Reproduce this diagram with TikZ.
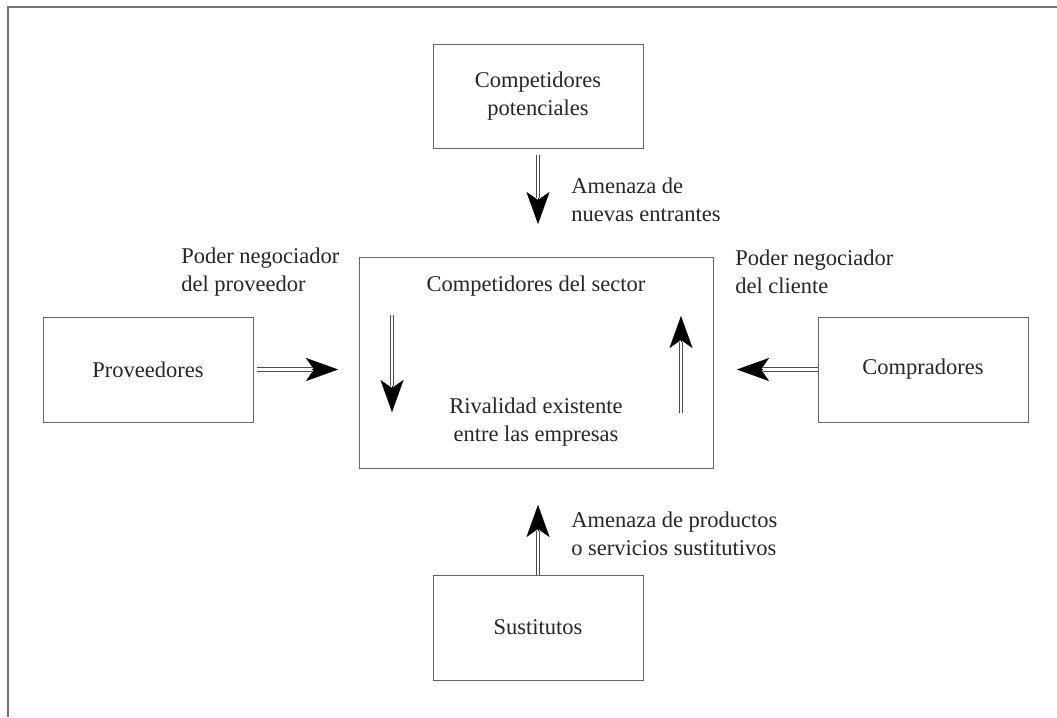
\documentclass[tikz,border=0pt]{standalone}
\usepackage{fontspec}
\setmainfont{Liberation Serif}
\usetikzlibrary{arrows.meta}
\newlength{\pixel}
\setlength{\pixel}{0.025cm}

\tikzset{
  force box/.style = {draw = black!60, line width = 0.6pt, align = center,
    text = black!85, font = \fontsize{16}{20}\selectfont, inner sep = 0pt},
  force label/.style = {align = left, anchor = west, text = black!85,
    font = \fontsize{16}{20}\selectfont, inner sep = 0pt},
  force shaft/.style = {draw = black!70, line width = 0.7pt, double = white,
    double distance = 2pt},
  force head/.style = {draw = black, fill = black, line width = 0.2pt,
    -{Stealth[length = 0.8cm, width = 0.575cm, inset = 0.2cm]}}
}

\begin{document}
\begin{tikzpicture}[x = \pixel, y = -\pixel]
    \useasboundingbox (0, 0) rectangle (1057, 717);

    % frame
    \draw[draw = black!55, line width = 0.8pt] (8, 717) -- (8, 7) -- (1057, 7);

    % the five forces
    \node[force box, minimum width = 210\pixel, minimum height = 104\pixel]
      (potenciales) at (538, 96) {Competidores\\potenciales};
    \node[force box, minimum width = 354\pixel, minimum height = 211\pixel]
      (sector) at (536, 362.5) {};
    \node[force box, minimum width = 210\pixel, minimum height = 105\pixel]
      (proveedores) at (148, 369.5) {Proveedores};
    \node[force box, minimum width = 210\pixel, minimum height = 105\pixel]
      (compradores) at (923, 369.5) {Compradores};
    \node[force box, minimum width = 210\pixel, minimum height = 105\pixel]
      (sustitutos) at (538, 627.5) {Sustitutos};

    % texts in the sector box
    \node[force box, draw = none] (sectorTitle) at (536, 286)
      {Competidores del sector};
    \node[force box, draw = none] (rivalidad) at (536, 422)
      {Rivalidad existente\\entre las empresas};

    % labels
    \node[force label] (entrantesText) at (571, 200)
      {Amenaza de\\nuevas entrantes};
    \node[force label] (proveedorText) at (181, 272)
      {Poder negociador\\del proveedor};
    \node[force label] (clienteText) at (735, 272)
      {Poder negociador\\del cliente};
    \node[force label] (sustitutosText) at (571, 534)
      {Amenaza de productos\\o servicios sustitutivos};

    % arrow ends: tail, base of the head, tip
    \coordinate (entrantesTail) at (538, 155);
    \coordinate (entrantesBase) at (538, 198);
    \coordinate (entrantesTip) at (538, 224);
    \coordinate (proveedorTail) at (257, 369.5);
    \coordinate (proveedorBase) at (312, 369.5);
    \coordinate (proveedorTip) at (338, 369.5);
    \coordinate (clienteBase) at (763, 369.5);
    \coordinate (clienteTip) at (737, 369.5);
    \coordinate (sustitutosBase) at (538, 531);
    \coordinate (sustitutosTip) at (538, 505);
    \coordinate (downTail) at (392, 315);
    \coordinate (downBase) at (392, 386);
    \coordinate (downTip) at (392, 412);
    \coordinate (upTail) at (681, 413);
    \coordinate (upBase) at (681, 342);
    \coordinate (upTip) at (681, 316);

    % arrows
    \draw[force shaft] (entrantesTail) -- (entrantesBase);
    \draw[force head] (entrantesBase) -- (entrantesTip);

    \draw[force shaft] (proveedorTail) -- (proveedorBase);
    \draw[force head] (proveedorBase) -- (proveedorTip);

    \draw[force shaft] (compradores.west) -- (clienteBase);
    \draw[force head] (clienteBase) -- (clienteTip);

    \draw[force shaft] (sustitutos.north) -- (sustitutosBase);
    \draw[force head] (sustitutosBase) -- (sustitutosTip);

    \draw[force shaft] (downTail) -- (downBase);
    \draw[force head] (downBase) -- (downTip);

    \draw[force shaft] (upTail) -- (upBase);
    \draw[force head] (upBase) -- (upTip);
\end{tikzpicture}
\end{document}
